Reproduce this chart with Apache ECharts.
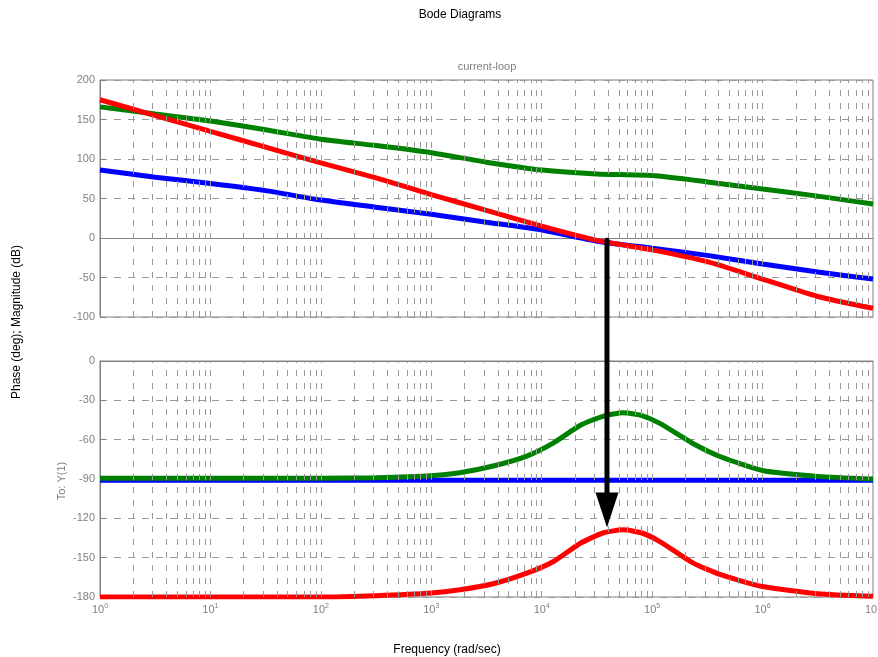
<!DOCTYPE html>
<html>
<head>
<meta charset="utf-8">
<script src="https://cdn.jsdelivr.net/npm/echarts@6/dist/echarts.min.js"></script>
<style>
  html, body { margin: 0; padding: 0; background: #ffffff; }
  #chart { width: 878px; height: 657px; }
</style>
</head>
<body>
<div id="chart"></div>
<script>
// Magnitude response (dB) sampled at these frequencies (rad/sec)
const magFreq  = [1, 3.16, 10, 31.6, 100, 316, 1000, 3160, 1e4, 3.16e4, 1e5, 3.16e5, 1e6, 3.16e6, 1e7];
const magBlue  = [86, 77, 69, 60, 48, 39, 30, 20, 10, -4, -13, -22, -33, -43, -52];
const magGreen = [166, 157, 148, 137, 125, 117, 108, 96, 86, 81, 79, 71, 62, 53, 43];
const magRed   = [175, 155, 135, 115, 95, 76, 55, 35, 15, -3, -15, -30, -52, -74, -89];

// Phase response (deg)
const phaseFreq  = [1, 10, 100, 316, 1000, 1820, 3630, 7330, 12800, 22400, 36300, 55000, 79400, 117500, 234000, 417000, 1e6, 3.16e6, 1e7];
const phaseBlue  = [-91, -91, -91, -91, -91, -91, -91, -91, -91, -91, -91, -91, -91, -91, -91, -91, -91, -91, -91];
const phaseGreen = [-89.5, -89.5, -89.5, -89, -87.5, -85.2, -80.1, -72.5, -62.4, -49, -42, -39.5, -41.5, -47.6, -62.9, -73, -83.5, -88, -90];
const phaseRed   = [-180, -180, -180, -179, -177, -174.5, -169.9, -161.8, -152.9, -139, -131, -128.8, -131, -137.7, -154, -163, -172, -177.5, -179.5];

// Crossover annotation: from the magnitude plot down to the phase plot
const arrowFreq = 3.9e4;
const arrowFromMag = -3;
const arrowToPhase = -127;

const FONT = 'Liberation Sans, Arial, Helvetica, sans-serif';
const GRAY = '#808080';
const GRID_GRAY = '#999999';

// log-decade grid positions (2..9 x 10^k and decades)
const vLines = [];
for (let k = 0; k < 7; k++) {
  for (let m = 1; m <= 9; m++) {
    const v = m * Math.pow(10, k);
    if (v > 1) vLines.push({ xAxis: v });
  }
}

const zip = (xs, ys) => xs.map((x, i) => [x, ys[i]]);

function xAxisCfg(gridIndex, showLabels) {
  return {
    type: 'log', logBase: 10, min: 1, max: 1e7, gridIndex,
    axisLine: { show: true, lineStyle: { color: GRAY, width: 1 } },
    axisTick: { show: false },
    splitLine: { show: false },
    axisLabel: {
      show: showLabels, margin: 6,
      formatter: v => '{b|10}{s|' + Math.round(Math.log10(v)) + '}',
      rich: {
        b: { fontSize: 11, color: GRAY, fontFamily: FONT },
        s: { fontSize: 7, color: GRAY, fontFamily: FONT, padding: [0, 0, 7, 0] }
      }
    }
  };
}

function yAxisCfg(gridIndex, min, max, interval) {
  return {
    type: 'value', gridIndex, min, max, interval,
    axisLine: { show: true, lineStyle: { color: GRAY, width: 1 } },
    axisTick: { show: true, inside: true, length: 5, lineStyle: { color: GRAY } },
    axisLabel: { color: GRAY, fontSize: 11, fontFamily: FONT, margin: 5 },
    splitLine: { show: true, lineStyle: { color: GRID_GRAY, width: 1, type: [7, 7] } }
  };
}

function gridSeries(idx) {
  return {
    type: 'line', xAxisIndex: idx, yAxisIndex: idx, data: [], z: 1, silent: true,
    markLine: {
      silent: true, symbol: ['none', 'none'], label: { show: false },
      lineStyle: { color: GRID_GRAY, width: 1, type: [6, 7] },
      emphasis: { disabled: true },
      data: vLines
    }
  };
}

function curve(idx, xs, ys, color) {
  return {
    type: 'line', xAxisIndex: idx, yAxisIndex: idx, data: zip(xs, ys), z: 3,
    showSymbol: false, smooth: 0.2, silent: true,
    lineStyle: { color, width: 5 }
  };
}

const chart = echarts.init(document.getElementById('chart'), null, { renderer: 'canvas' });

chart.setOption({
  animation: false,
  backgroundColor: '#ffffff',
  grid: [
    { left: 100, top: 80, width: 773, height: 237, show: true, borderColor: GRAY, borderWidth: 1, outerBoundsMode: 'none', containLabel: false },
    { left: 100, top: 361, width: 773, height: 236, show: true, borderColor: GRAY, borderWidth: 1, outerBoundsMode: 'none', containLabel: false }
  ],
  xAxis: [xAxisCfg(0, false), xAxisCfg(1, true)],
  yAxis: [yAxisCfg(0, -100, 200, 50), yAxisCfg(1, -180, 0, 30)],
  series: [
    gridSeries(0), gridSeries(1),
    curve(0, magFreq, magBlue, '#0000ff'),
    curve(0, magFreq, magGreen, '#008000'),
    curve(0, magFreq, magRed, '#ff0000'),
    curve(1, phaseFreq, phaseBlue, '#0000ff'),
    curve(1, phaseFreq, phaseGreen, '#008000'),
    curve(1, phaseFreq, phaseRed, '#ff0000')
  ],
  graphic: [
    { id: 'title', type: 'text', x: 460, y: 15, style: { text: 'Bode Diagrams', fill: '#000', font: '12px ' + FONT, align: 'center', verticalAlign: 'middle' } },
    { id: 'subtitle', type: 'text', x: 487, y: 67, style: { text: 'current-loop', fill: GRAY, font: '11px ' + FONT, align: 'center', verticalAlign: 'middle' } },
    { id: 'xname', type: 'text', x: 447, y: 650, style: { text: 'Frequency (rad/sec)', fill: '#000', font: '12px ' + FONT, align: 'center', verticalAlign: 'middle' } },
    { id: 'yname', type: 'text', x: 17, y: 322, rotation: Math.PI / 2, style: { text: 'Phase (deg); Magnitude (dB)', fill: '#000', font: '12px ' + FONT, align: 'center', verticalAlign: 'middle' } },
    { id: 'ioname', type: 'text', x: 62, y: 481, rotation: Math.PI / 2, style: { text: 'To: Y(1)', fill: GRAY, font: '11px ' + FONT, align: 'center', verticalAlign: 'middle' } }
  ]
});

// Arrow placed through the axes' own coordinate conversion
const p0 = chart.convertToPixel({ xAxisIndex: 0, yAxisIndex: 0 }, [arrowFreq, arrowFromMag]);
const p1 = chart.convertToPixel({ xAxisIndex: 1, yAxisIndex: 1 }, [arrowFreq, arrowToPhase]);
const headLen = 35, headHalf = 11.5;
chart.setOption({
  graphic: [
    { id: 'arrowShaft', type: 'line', z: 100, shape: { x1: p0[0], y1: p0[1], x2: p1[0], y2: p1[1] - headLen + 2 },
      style: { stroke: '#000', lineWidth: 5, lineCap: 'round' } },
    { id: 'arrowHead', type: 'polygon', z: 100, shape: { points: [[p1[0] - headHalf, p1[1] - headLen], [p1[0] + headHalf, p1[1] - headLen], [p1[0], p1[1]]] },
      style: { fill: '#000' } }
  ]
});
</script>
</body>
</html>
